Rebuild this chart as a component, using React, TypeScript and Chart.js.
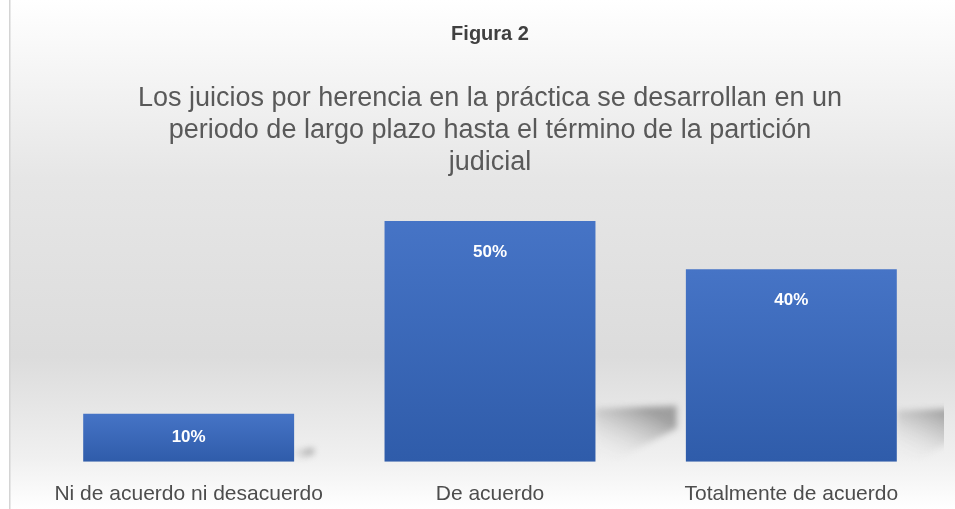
import React, { useEffect, useRef } from "react";
import { Chart, registerables } from "chart.js";

Chart.register(...registerables);

const categories: string[] = ["Ni de acuerdo ni desacuerdo", "De acuerdo", "Totalmente de acuerdo"];
const values: number[] = [10, 50, 40];
const valueLabels: string[] = ["10%", "50%", "40%"];
const titleText = "Figura 2";
const subtitleLines: string[] = [
  "Los juicios por herencia en la práctica se desarrollan en un",
  "periodo de largo plazo hasta el término de la partición",
  "judicial",
];

const FONT = "'Liberation Sans', Arial, sans-serif";

const backgroundPlugin = {
  id: "bgPlugin",
  beforeDraw(chart: any) {
    const { ctx, width, height } = chart;
    ctx.save();
    ctx.fillStyle = "#ffffff";
    ctx.fillRect(0, 0, width, height);
    const g = ctx.createLinearGradient(0, 0, 0, height);
    g.addColorStop(0, "#ffffff");
    g.addColorStop(0.35, "#e6e6e6");
    g.addColorStop(0.7, "#dcdcdc");
    g.addColorStop(0.9, "#f0f0f0");
    g.addColorStop(1, "#ffffff");
    ctx.fillStyle = g;
    ctx.fillRect(10, 0, width - 10, height);
    ctx.fillStyle = "#d4d4d4";
    ctx.fillRect(9, 0, 1.5, height);
    ctx.restore();
  },
};

const shadowPlugin = {
  id: "shadowPlugin",
  beforeDatasetsDraw(chart: any) {
    const { ctx, chartArea } = chart;
    const meta = chart.getDatasetMeta(0);
    ctx.save();
    ctx.beginPath();
    ctx.rect(chartArea.left, chartArea.top, chartArea.right - chartArea.left + 2, chartArea.bottom - chartArea.top + 2);
    ctx.clip();
    meta.data.forEach((bar: any) => {
      const right = bar.x + bar.width / 2;
      const base = bar.base;
      const h = Math.min(56, (base - bar.y) * 0.28);
      const w = h * 1.45;
      const g = ctx.createLinearGradient(right + w * 0.55, base - h, right + w * 0.2, base);
      g.addColorStop(0, "rgba(110,110,110,0.6)");
      g.addColorStop(0.4, "rgba(150,150,150,0.35)");
      g.addColorStop(1, "rgba(230,230,230,0.0)");
      ctx.filter = "blur(3px)";
      ctx.fillStyle = g;
      ctx.beginPath();
      ctx.moveTo(right, base - h + 3);
      ctx.lineTo(right + w, base - h);
      ctx.lineTo(right + w, base - h * 0.6);
      ctx.lineTo(right + w * 0.2, base);
      ctx.lineTo(right, base);
      ctx.closePath();
      ctx.fill();
    });
    ctx.restore();
  },
};

const labelPlugin = {
  id: "labelPlugin",
  afterDatasetsDraw(chart: any) {
    const { ctx } = chart;
    const meta = chart.getDatasetMeta(0);
    ctx.save();
    ctx.font = `bold 17px ${FONT}`;
    ctx.fillStyle = "#ffffff";
    ctx.textAlign = "center";
    ctx.textBaseline = "middle";
    meta.data.forEach((bar: any, i: number) => {
      const y = Math.min(bar.y + 31, (bar.y + bar.base) / 2);
      ctx.fillText(valueLabels[i], bar.x, y);
    });
    ctx.restore();
  },
};

export default function App() {
  const ref = useRef<HTMLCanvasElement | null>(null);
  useEffect(() => {
    if (!ref.current) return;
    const chart = new Chart(ref.current, {
      type: "bar",
      data: {
        labels: categories,
        datasets: [
          {
            data: values,
            backgroundColor: (c: any) => {
              const ch = c.chart;
              const y = ch.scales && ch.scales.y;
              if (!y || c.dataIndex === undefined || !ch.chartArea) return "#3a68b8";
              const top = y.getPixelForValue(values[c.dataIndex]);
              const bottom = y.getPixelForValue(0);
              const g = ch.ctx.createLinearGradient(0, top, 0, bottom);
              g.addColorStop(0, "#4674c6");
              g.addColorStop(1, "#2f5caa");
              return g;
            },
            borderWidth: 0,
            categoryPercentage: 1,
            barPercentage: 0.7,
          },
        ],
      },
      options: {
        animation: false,
        responsive: false,
        layout: { padding: { left: 38, right: 13, top: 0, bottom: -10 } },
        scales: {
          x: {
            grid: { display: false },
            border: { display: false },
            ticks: { color: "#4d4d4d", font: { family: FONT, size: 21 }, padding: 12, maxRotation: 0 },
          },
          y: {
            display: false,
            min: 0,
            max: 50,
          },
        },
        plugins: {
          legend: { display: false },
          tooltip: { enabled: false },
          title: {
            display: true,
            text: titleText,
            color: "#404040",
            font: { family: FONT, size: 20, weight: "bold", lineHeight: 1.2 },
            padding: { top: 22, bottom: 0 },
          },
          subtitle: {
            display: true,
            text: subtitleLines,
            color: "#595959",
            font: { family: FONT, size: 27, lineHeight: "32px" as any },
            padding: { top: 37, bottom: 42 },
          },
        },
      },
      plugins: [backgroundPlugin, shadowPlugin, labelPlugin],
    });
    return () => chart.destroy();
  }, []);
  return (
    <div style={{ position: "fixed", left: 0, top: 0, width: 955, height: 509 }}>
      <canvas ref={ref} width={955} height={509} style={{ width: 955, height: 509, display: "block" }} />
    </div>
  );
}
